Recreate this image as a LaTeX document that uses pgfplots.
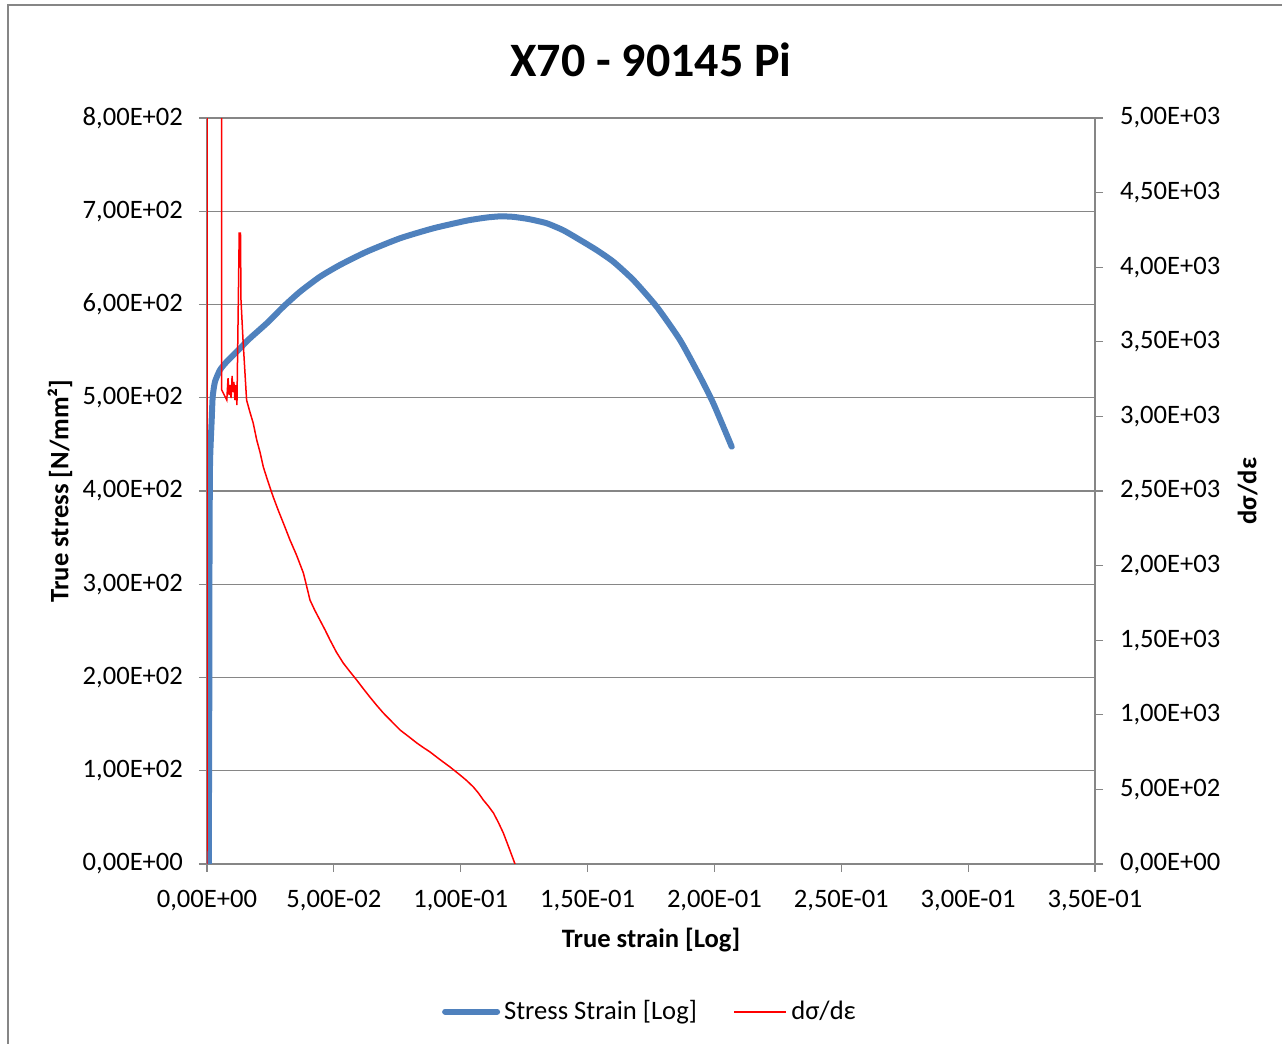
\documentclass[border=0pt]{standalone}
\usepackage{pgfplots}
\pgfplotsset{compat=1.18}
\usepackage{fontspec}
\setmainfont{Carlito}
\definecolor{xlblue}{HTML}{4F81BD}
\definecolor{xlred}{HTML}{FF0000}
\definecolor{xlgrid}{HTML}{868686}

\pgfplotsset{
  chartbase/.style={
    scale only axis, width=444pt, height=373pt,
    at={(0,0)}, anchor=south west,
    xmin=0, xmax=0.35,
    tick align=outside, major tick length=4pt,
    every tick/.style={xlgrid, line width=0.6pt},
    axis line style={xlgrid, line width=0.6pt, -},
    tick label style={font=\fontsize{13.3}{16}\selectfont},
    label style={font=\fontsize{13.3}{16}\selectfont\bfseries},
    /pgf/number format/assume math mode=true,
  }
}

\begin{document}
\begin{tikzpicture}
\path[use as bounding box] (-103.5pt,-90pt) rectangle (537.5pt,432pt);
\draw[xlgrid, line width=0.6pt] (-99.5pt,-90pt) -- (-99.5pt,429.5pt) -- (537.5pt,429.5pt);

\begin{axis}[chartbase,
    axis x line*=bottom, axis y line*=left,
    ymin=0, ymax=800,
    ytick={0,100,...,800},
    yticklabels={{0,00E+00},{1,00E+02},{2,00E+02},{3,00E+02},{4,00E+02},{5,00E+02},{6,00E+02},{7,00E+02},{8,00E+02}},
    yticklabel style={xshift=-4.5pt},
    xtick={0,0.05,0.1,0.15,0.2,0.25,0.3,0.35},
    xticklabels={{0,00E+00},{5,00E-02},{1,00E-01},{1,50E-01},{2,00E-01},{2,50E-01},{3,00E-01},{3,50E-01}},
    xticklabel style={yshift=-5.5pt},
    ymajorgrids, grid style={xlgrid, line width=0.6pt},
    xlabel={True strain [Log]},
    xlabel style={at={(axis description cs:0.5,-0.102)}, anchor=center},
    ylabel={True stress [N/mm²]},
    ylabel style={at={(axis description cs:-0.1655,0.5)}, anchor=center},
    title={X70 - 90145 Pi},
    title style={at={(axis description cs:0.5,1.062)}, anchor=center, font=\fontsize{24}{28}\selectfont\bfseries},
  ]
  % true stress vs true strain
  \addplot[xlblue, line width=3pt, line join=round, line cap=round, smooth, tension=0.35] coordinates {
    (0.0007,0) (0.0009,175.9) (0.0010,336.7) (0.0012,430.0) (0.00185,476.1)
    (0.00225,501.1) (0.00315,517.2) (0.00512,529.8) (0.00777,538.7) (0.01171,549.4)
    (0.01695,563.8) (0.02353,579.8) (0.03008,597.6) (0.03666,613.7) (0.04454,629.8)
    (0.05242,642.4) (0.06295,656.6) (0.07607,671.0) (0.08920,681.7) (0.10236,689.9)
    (0.11000,693.2) (0.11550,694.5) (0.12073,694.0) (0.12700,691.5) (0.13390,687.1)
    (0.14050,679.5) (0.14702,669.2) (0.15350,658.5) (0.16015,645.9)
    (0.16803,626.3) (0.17726,597.6) (0.18644,561.9) (0.19433,522.6) (0.19957,494.0)
    (0.20682,447.5)
  };
\end{axis}

\begin{axis}[chartbase,
    axis x line=none, axis y line*=right,
    ymin=0, ymax=5000,
    ytick={0,500,...,5000},
    yticklabels={{0,00E+00},{5,00E+02},{1,00E+03},{1,50E+03},{2,00E+03},{2,50E+03},{3,00E+03},{3,50E+03},{4,00E+03},{4,50E+03},{5,00E+03}},
    yticklabel style={xshift=5pt},
    ylabel={dσ/dε},
    ylabel style={at={(axis description cs:1.172,0.5)}, anchor=center},
    legend columns=2,
    legend style={at={(axis description cs:0.5,-0.198)}, anchor=center, draw=white,
      font=\fontsize{13.3}{16}\selectfont, inner sep=0pt,
      /tikz/every even column/.append style={column sep=16pt}},
  ]
  \addlegendimage{legend image code/.code={\draw[color=xlblue, line width=3pt, line cap=round] (0pt,0pt) -- (26pt,0pt);}}
  \addlegendentry{Stress Strain [Log]}
  \addlegendimage{legend image code/.code={\draw[color=xlred, line width=1.2pt] (0pt,0pt) -- (26pt,0pt);}}
  \addlegendentry{dσ/dε}
  % d sigma / d epsilon
  \addplot[xlred, line width=0.75pt, forget plot] coordinates {
    (0,0) (0.0002,20000) (0.0057,20000) (0.0058,3177) (0.0078,3110)
    (0.0083,3257) (0.0087,3143) (0.0091,3210) (0.0095,3123) (0.0099,3271)
    (0.0102,3163) (0.0106,3231) (0.0110,3110) (0.0114,3210) (0.0118,3076)
    (0.0127,4229) (0.0132,4229) (0.0134,3780) (0.0142,3512) (0.0156,3110)
    (0.0169,3030) (0.0182,2956) (0.0196,2842) (0.0209,2760) (0.0222,2661)
    (0.0241,2560) (0.0261,2460) (0.0281,2370) (0.0301,2285) (0.0327,2172)
    (0.0353,2070) (0.0380,1950) (0.0393,1860) (0.0406,1769) (0.0425,1700)
    (0.0445,1635) (0.0465,1570) (0.0485,1501) (0.0510,1420) (0.0537,1347)
    (0.0563,1290) (0.0590,1233) (0.0616,1175) (0.0642,1119) (0.0668,1065)
    (0.0695,1012) (0.0728,955) (0.0761,898) (0.0794,855) (0.0827,811)
    (0.0853,780) (0.0879,751) (0.0918,700) (0.0958,650) (0.0997,597)
    (0.1023,560) (0.1050,516) (0.1070,475) (0.1089,429) (0.1109,388)
    (0.1129,342) (0.1148,280) (0.1168,208) (0.1191,105) (0.1214,0)
  };
\end{axis}
\end{tikzpicture}
\end{document}
